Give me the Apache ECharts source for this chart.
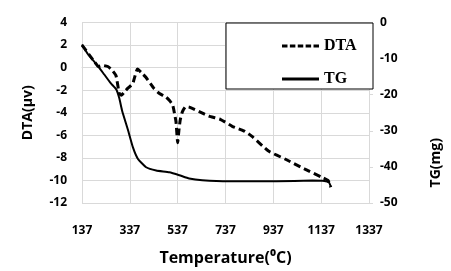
<!DOCTYPE html>
<html>
<head>
<meta charset="utf-8">
<script src="https://cdn.jsdelivr.net/npm/echarts@6/dist/echarts.min.js"></script>
<style>
  html, body { margin: 0; padding: 0; background: #fff; }
  #chart { width: 451px; height: 271px; }
</style>
</head>
<body>
<div id="chart"></div>
<script>
// x ticks
const tempTicks = [137, 337, 537, 737, 937, 1137, 1337]

// DTA curve (left axis)
const dtaTemp = [137, 165, 190, 205, 222, 245, 262, 279, 293, 302, 314, 330, 349, 369, 388, 404, 439, 461, 488, 502, 516, 525, 530, 537, 542, 548, 557, 571, 585, 627, 668, 717, 765, 813, 848, 917, 986, 1069, 1138, 1166, 1177]
const dtaValues = [2.0, 1.2, 0.5, 0.1, 0.2, 0.1, -0.2, -0.7, -2.3, -2.45, -2.16, -1.8, -1.43, -0.13, -0.5, -0.85, -1.87, -2.3, -2.6, -2.9, -3.3, -4.2, -4.8, -6.65, -5.6, -4.6, -3.9, -3.45, -3.5, -3.9, -4.3, -4.6, -5.2, -5.6, -6.1, -7.4, -8.1, -9.0, -9.7, -10.0, -10.6]

// TG curve (right axis)
const tgTemp = [137, 162, 203, 230, 257, 281, 293, 305, 329, 350, 371, 405, 447, 502, 544, 585, 640, 751, 950, 1100, 1150, 1170, 1177]
const tgValues = [-6.1, -8.8, -12.0, -14.4, -16.8, -18.6, -21.0, -24.5, -29.7, -34.6, -37.8, -40.1, -41.0, -41.5, -42.3, -43.2, -43.7, -44.0, -44.0, -43.8, -43.9, -44.3, -45.4]

const zip = (xs, ys) => xs.map((x, i) => [x, ys[i]])

const labelFont = { fontFamily: 'Open Sans', fontWeight: 'bold', fontSize: 12, color: '#000' }
const gridLine = { show: true, lineStyle: { color: '#d9d9d9', width: 1 } }

// legend samples: five dashes for DTA, a plain bar for TG
const dashIcon = 'path://M0,0h55v30h-55z M79,0h55v30h-55z M158,0h55v30h-55z M237,0h55v30h-55z M316,0h55v30h-55z'

const chart = echarts.init(document.getElementById('chart'))
chart.setOption({
    animation: false,
    backgroundColor: '#fff',
    grid: { left: 82, right: 80, top: 22.5, bottom: 64.5 },
    legend: {
        left: 226,
        top: 23,
        orient: 'vertical',
        backgroundColor: '#fff',
        borderColor: '#000',
        borderWidth: 1,
        borderRadius: 0,
        padding: [15, 9, 2, 56],
        itemGap: 17,
        itemWidth: 37,
        itemHeight: 3,
        textStyle: {
            fontFamily: 'Liberation Serif', fontWeight: 'bold', fontSize: 16,
            color: '#000', width: 40, align: 'right', lineHeight: 16
        },
        data: [
            { name: 'DTA', icon: dashIcon, itemStyle: { color: '#000' } },
            { name: 'TG', icon: 'rect', itemStyle: { color: '#000' } }
        ]
    },
    xAxis: {
        type: 'value',
        min: 137,
        max: 1337,
        interval: 200,
        name: 'Temperature(⁰C)',
        nameLocation: 'middle',
        nameGap: 47,
        nameTextStyle: { fontFamily: 'Open Sans', fontWeight: 'bold', fontSize: 16, color: '#000' },
        axisLine: { show: true, lineStyle: { color: '#d9d9d9' } },
        axisTick: { show: false },
        axisLabel: Object.assign({ margin: 22, formatter: v => String(v) }, labelFont),
        splitLine: gridLine
    },
    yAxis: [
        {
            type: 'value',
            min: -12,
            max: 4,
            interval: 2,
            name: 'DTA(μv)',
            nameLocation: 'middle',
            nameGap: 47,
            nameTextStyle: { fontFamily: 'Open Sans', fontWeight: 'bold', fontSize: 14, color: '#000' },
            axisLine: { show: true, lineStyle: { color: '#d9d9d9' } },
            axisTick: { show: false },
            axisLabel: Object.assign({ margin: 15 }, labelFont),
            splitLine: gridLine
        },
        {
            type: 'value',
            min: -50,
            max: 0,
            interval: 10,
            position: 'right',
            name: 'TG(mg)',
            nameLocation: 'middle',
            nameGap: 60,
            nameTextStyle: { fontFamily: 'Open Sans', fontWeight: 'bold', fontSize: 14, color: '#000', padding: [0, 100, 0, 0] },
            axisLine: { show: true, lineStyle: { color: '#d9d9d9' } },
            axisTick: { show: true, length: 4, lineStyle: { color: '#d9d9d9' } },
            axisLabel: Object.assign({ margin: 11 }, labelFont),
            splitLine: { show: false }
        }
    ],
    series: [
        {
            name: 'DTA',
            type: 'line',
            yAxisIndex: 0,
            data: zip(dtaTemp, dtaValues),
            symbol: 'none',
            smooth: 0.15,
            lineStyle: { color: '#000', width: 3, type: [7, 4] },
            itemStyle: { color: '#000' }
        },
        {
            name: 'TG',
            type: 'line',
            yAxisIndex: 1,
            data: zip(tgTemp, tgValues),
            symbol: 'none',
            smooth: 0.15,
            lineStyle: { color: '#000', width: 2 },
            itemStyle: { color: '#000' }
        }
    ]
})
</script>
</body>
</html>
